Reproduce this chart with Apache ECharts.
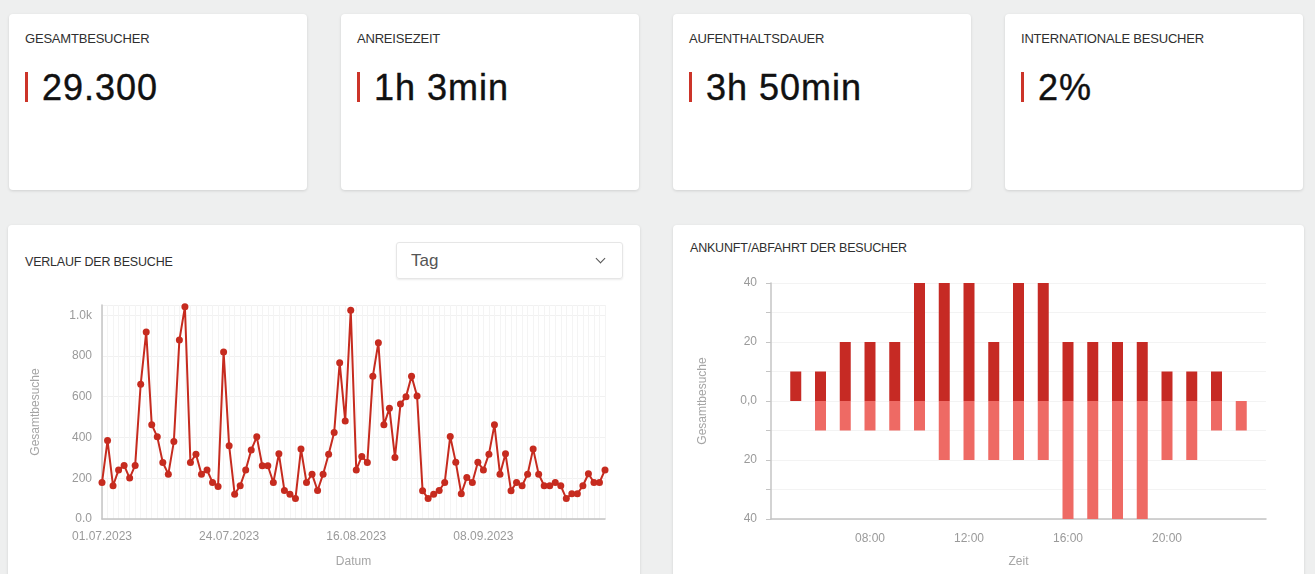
<!DOCTYPE html>
<html>
<head>
<meta charset="utf-8">
<script src="https://cdn.jsdelivr.net/npm/echarts@6/dist/echarts.min.js"></script>
<style>
  body { margin: 0; background: #eeefef; font-family: 'Liberation Sans', Arial, sans-serif; width: 1315px; height: 574px; overflow: hidden; position: relative; }
  .card { position: absolute; background: #fff; border-radius: 4px; box-shadow: 0 1px 3px rgba(0,0,0,0.13); }
  .kpi { top: 14px; width: 298px; height: 176px; }
  .kpi .title { position: absolute; left: 16px; top: 17px; font-size: 13px; color: #2f2f2f; letter-spacing: -0.2px; }
  .kpi .value { position: absolute; left: 16px; top: 58px; height: 30px; border-left: 3px solid #cc3429; padding-left: 14px; font-size: 36px; line-height: 31px; color: #111; letter-spacing: 1px; -webkit-text-stroke: 0.4px #111; }
  .panel { top: 225px; height: 360px; }
  .ptitle { position: absolute; font-size: 12.5px; color: #2f2f2f; letter-spacing: -0.2px; }
  .select { position: absolute; left: 388px; top: 17px; width: 225px; height: 35px; border: 1px solid #e6e6e6; border-radius: 3px; box-shadow: 0 1px 2px rgba(0,0,0,0.08); }
  .select span { position: absolute; left: 14px; top: 8px; font-size: 17px; color: #555; }
  .select i { position: absolute; right: 18px; top: 12px; width: 6px; height: 6px; border-right: 1.6px solid #555; border-bottom: 1.6px solid #555; transform: rotate(45deg); }
  .chart { position: absolute; }
</style>
</head>
<body>
<div class="card kpi" style="left:9px"><div class="title">GESAMTBESUCHER</div><div class="value">29.300</div></div>
<div class="card kpi" style="left:341px"><div class="title">ANREISEZEIT</div><div class="value">1h 3min</div></div>
<div class="card kpi" style="left:673px"><div class="title">AUFENTHALTSDAUER</div><div class="value">3h 50min</div></div>
<div class="card kpi" style="left:1005px"><div class="title">INTERNATIONALE BESUCHER</div><div class="value">2%</div></div>

<div class="card panel" style="left:8px;width:632px">
  <div class="ptitle" style="left:17px;top:30px">VERLAUF DER BESUCHE</div>
  <div class="select"><span>Tag</span><i></i></div>
</div>
<div class="card panel" style="left:673px;width:631px">
  <div class="ptitle" style="left:17px;top:16px">ANKUNFT/ABFAHRT DER BESUCHER</div>
</div>

<div id="line" class="chart" style="left:8px;top:290px;width:632px;height:284px"></div>
<div id="bars" class="chart" style="left:673px;top:225px;width:631px;height:349px"></div>

<script>
// daily visits, 01.07.2023 - 30.09.2023
const startDate = new Date(2023, 6, 1)
const visits = [
  179, 385, 163, 241, 263, 201, 263, 661, 918, 463,
  403, 277, 220, 380, 878, 1041, 277, 318, 220, 241,
  179, 160, 820, 360, 122, 163, 241, 339, 403, 261,
  261, 179, 320, 140, 122, 100, 343, 179, 220, 140,
  220, 318, 424, 767, 481, 1024, 241, 307, 277, 701,
  865, 462, 543, 302, 564, 600, 701, 604, 139, 100,
  122, 140, 179, 405, 279, 124, 204, 179, 279, 241,
  318, 462, 220, 320, 139, 179, 163, 220, 344, 220,
  163, 163, 179, 163, 100, 124, 124, 163, 222, 179,
  179, 241
]

// arrivals / departures per hour
const hours = [5, 6, 7, 8, 9, 10, 11, 12, 13, 14, 15, 16, 17, 18, 19, 20, 21, 22, 23]
const arrivals = [10, 10, 20, 20, 20, 40, 40, 40, 20, 40, 40, 20, 20, 20, 20, 10, 10, 10, 0]
const departures = [0, 10, 10, 10, 10, 10, 20, 20, 20, 20, 20, 40, 40, 40, 40, 20, 20, 10, 10]

const dates = visits.map((v, i) => {
  const d = new Date(startDate.getTime() + i * 86400000)
  const p = n => String(n).padStart(2, '0')
  return p(d.getDate()) + '.' + p(d.getMonth() + 1) + '.' + d.getFullYear()
})

const labelStyle = { color: '#9a9a9a', fontSize: 12, fontFamily: 'Liberation Sans' }
const nameStyle = { color: '#a5a5a5', fontSize: 12, fontFamily: 'Liberation Sans' }

const lineChart = echarts.init(document.getElementById('line'))
lineChart.setOption({
  animation: false,
  grid: { left: 94, top: 15, width: 503, height: 214 },
  xAxis: {
    type: 'category',
    data: dates,
    boundaryGap: false,
    name: 'Datum',
    nameLocation: 'middle',
    nameGap: 37,
    nameTextStyle: nameStyle,
    axisLine: { lineStyle: { color: '#c4c4c4', width: 1.5 } },
    axisTick: { show: false },
    axisLabel: { ...labelStyle, interval: 22, margin: 12 },
    splitLine: { show: true, interval: 0, lineStyle: { color: '#f4f4f4' } }
  },
  yAxis: {
    type: 'value',
    min: 0,
    max: 1050,
    interval: 200,
    name: 'Gesamtbesuche',
    nameLocation: 'middle',
    nameGap: 60,
    nameTextStyle: nameStyle,
    axisLine: { show: true, lineStyle: { color: '#c4c4c4', width: 1.5 } },
    axisLabel: {
      ...labelStyle,
      margin: 10,
      showMaxLabel: false,
      formatter: v => v === 0 ? '0.0' : v >= 1000 ? (v / 1000).toFixed(1) + 'k' : String(v)
    },
    splitLine: { lineStyle: { color: '#f1f1f1' } }
  },
  series: [{
    type: 'line',
    data: visits,
    symbol: 'circle',
    symbolSize: 7,
    showAllSymbol: true,
    lineStyle: { color: '#c62b1f', width: 2 },
    itemStyle: { color: '#c62b1f' }
  }]
})

const barChart = echarts.init(document.getElementById('bars'))
barChart.setOption({
  animation: false,
  grid: { left: 98, top: 58, width: 495, height: 236 },
  xAxis: {
    type: 'value',
    min: 4,
    max: 24,
    interval: 4,
    name: 'Zeit',
    nameLocation: 'middle',
    nameGap: 37,
    nameTextStyle: nameStyle,
    axisLine: { onZero: false, lineStyle: { color: '#c4c4c4', width: 1.5 } },
    axisTick: { show: false },
    axisLabel: {
      ...labelStyle,
      margin: 14,
      formatter: v => (v === 4 || v === 24) ? '' : String(v).padStart(2, '0') + ':00'
    },
    splitLine: { show: false }
  },
  yAxis: {
    type: 'value',
    min: -40,
    max: 40,
    interval: 10,
    name: 'Gesamtbesuche',
    nameLocation: 'middle',
    nameGap: 62,
    nameTextStyle: nameStyle,
    axisLine: { show: true, lineStyle: { color: '#c4c4c4', width: 1.5 } },
    axisLabel: {
      ...labelStyle,
      margin: 14,
      formatter: v => v === 0 ? '0,0' : (v % 20 === 0 ? String(Math.abs(v)) : '')
    },
    splitLine: { lineStyle: { color: '#f3f3f3' } }
  },
  series: [
    {
      name: 'Ankunft',
      type: 'bar',
      stack: 'total',
      barWidth: 11,
      data: hours.map((h, i) => [h, arrivals[i]]),
      itemStyle: { color: '#c62a24' }
    },
    {
      name: 'Abfahrt',
      type: 'bar',
      stack: 'total',
      barWidth: 11,
      data: hours.map((h, i) => [h, -departures[i]]),
      itemStyle: { color: '#ee6a64' }
    }
  ]
})
</script>
</body>
</html>
